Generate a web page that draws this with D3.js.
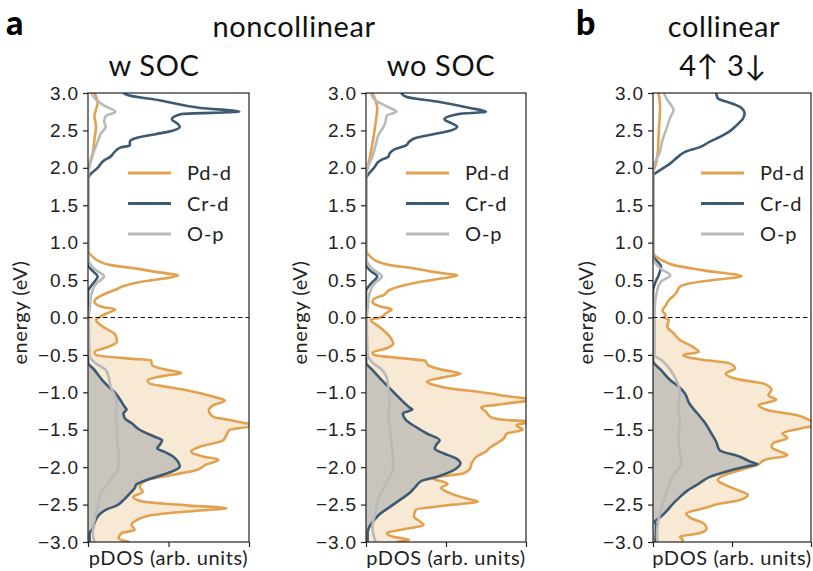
<!DOCTYPE html>
<html>
<head>
<meta charset="utf-8">
<script src="https://cdn.jsdelivr.net/npm/d3@7.9.0/dist/d3.min.js"></script>
<style>
  body { margin: 0; background: #fff; }
  svg { font-family: Lato, "Noto Sans", sans-serif; }
</style>
</head>
<body>
<svg id="chart" width="813" height="571"></svg>
<script>
// [energy (eV), pDOS in fraction of axis width]
const wsocPd = [[3.0,0.04],[2.87,0.06],[2.78,0.05],[2.69,0.04],[2.55,0.05],[2.38,0.04],[2.2,0.03],[2.06,0.01],[1.95,0],[0.9,0],[0.81,0.03],[0.75,0.07],[0.7,0.14],[0.66,0.28],[0.61,0.42],[0.56,0.56],[0.52,0.47],[0.48,0.34],[0.42,0.22],[0.37,0.17],[0.32,0.11],[0.25,0.05],[0.21,0.04],[0.14,0.09],[0.11,0.17],[0.05,0.11],[0,0.07],[-0.03,0.05],[-0.12,0.09],[-0.23,0.17],[-0.32,0.18],[-0.39,0.13],[-0.46,0.04],[-0.5,0.05],[-0.55,0.26],[-0.57,0.39],[-0.64,0.4],[-0.7,0.49],[-0.74,0.58],[-0.78,0.47],[-0.84,0.37],[-0.88,0.38],[-0.93,0.5],[-0.99,0.65],[-1.06,0.78],[-1.11,0.85],[-1.17,0.78],[-1.24,0.75],[-1.33,0.78],[-1.37,0.88],[-1.45,1.02],[-1.5,0.88],[-1.57,0.86],[-1.64,0.84],[-1.73,0.69],[-1.79,0.64],[-1.86,0.72],[-1.9,0.81],[-1.97,0.73],[-2.04,0.67],[-2.1,0.53],[-2.17,0.37],[-2.26,0.32],[-2.33,0.34],[-2.4,0.28],[-2.46,0.34],[-2.51,0.61],[-2.55,0.86],[-2.58,0.69],[-2.64,0.4],[-2.71,0.3],[-2.77,0.27],[-2.84,0.29],[-2.88,0.21],[-2.95,0.19],[-3.0,0.26]];
const wsocCr = [[3.0,0.22],[2.97,0.25],[2.9,0.45],[2.8,0.7],[2.75,0.94],[2.72,0.58],[2.65,0.52],[2.6,0.55],[2.55,0.57],[2.5,0.53],[2.45,0.42],[2.4,0.3],[2.35,0.26],[2.3,0.26],[2.27,0.2],[2.2,0.16],[2.15,0.14],[2.1,0.1],[2.0,0.06],[1.9,0.01],[1.85,0],[0.7,0],[0.62,0.03],[0.55,0.06],[0.45,0.03],[0.35,0],[-0.6,0],[-0.7,0.04],[-0.84,0.09],[-0.93,0.13],[-1.01,0.17],[-1.1,0.2],[-1.2,0.23],[-1.23,0.24],[-1.28,0.22],[-1.35,0.23],[-1.41,0.27],[-1.5,0.32],[-1.59,0.41],[-1.64,0.46],[-1.69,0.45],[-1.75,0.43],[-1.79,0.47],[-1.86,0.53],[-1.93,0.56],[-1.99,0.57],[-2.06,0.52],[-2.13,0.42],[-2.19,0.34],[-2.23,0.3],[-2.28,0.29],[-2.35,0.26],[-2.44,0.22],[-2.51,0.18],[-2.57,0.11],[-2.66,0.06],[-2.75,0.04],[-2.82,0.03],[-2.88,0.01],[-3.0,0.01]];
const wsocOp = [[3.0,0.02],[2.91,0.05],[2.82,0.11],[2.75,0.17],[2.69,0.11],[2.62,0.1],[2.55,0.11],[2.46,0.08],[2.35,0.06],[2.24,0.04],[2.1,0.02],[1.97,0.005],[1.8,0],[0.8,0],[0.65,0.04],[0.55,0.1],[0.45,0.05],[0.3,0.02],[0.1,0.01],[0,0.005],[-0.5,0.01],[-0.6,0.04],[-0.7,0.11],[-0.81,0.13],[-0.92,0.14],[-1.06,0.17],[-1.19,0.18],[-1.33,0.17],[-1.46,0.18],[-1.64,0.18],[-1.82,0.19],[-1.99,0.19],[-2.17,0.14],[-2.35,0.08],[-2.53,0.06],[-2.71,0.04],[-2.88,0.03],[-3.0,0.04]];

const wosocPd = [[3.0,0.04],[2.8,0.07],[2.6,0.06],[2.45,0.05],[2.2,0.03],[2.0,0.01],[1.9,0],[0.9,0],[0.81,0.03],[0.75,0.07],[0.7,0.15],[0.66,0.29],[0.61,0.42],[0.56,0.57],[0.52,0.47],[0.48,0.35],[0.42,0.22],[0.37,0.15],[0.3,0.11],[0.25,0.05],[0.21,0.04],[0.14,0.1],[0.11,0.16],[0.05,0.12],[0,0.09],[-0.03,0.03],[-0.12,0.08],[-0.26,0.15],[-0.35,0.17],[-0.41,0.13],[-0.47,0.04],[-0.5,0.05],[-0.55,0.25],[-0.58,0.37],[-0.64,0.39],[-0.7,0.48],[-0.75,0.59],[-0.8,0.48],[-0.86,0.38],[-0.9,0.42],[-0.95,0.53],[-0.99,0.69],[-1.05,0.88],[-1.1,1.03],[-1.15,0.88],[-1.2,0.72],[-1.26,0.75],[-1.33,0.78],[-1.37,0.88],[-1.39,1.03],[-1.44,0.94],[-1.5,0.98],[-1.55,0.88],[-1.62,0.86],[-1.68,0.82],[-1.73,0.78],[-1.79,0.75],[-1.86,0.69],[-1.95,0.66],[-2.02,0.65],[-2.08,0.61],[-2.15,0.42],[-2.22,0.51],[-2.28,0.47],[-2.35,0.53],[-2.42,0.63],[-2.46,0.7],[-2.51,0.51],[-2.57,0.31],[-2.66,0.3],[-2.73,0.34],[-2.77,0.36],[-2.84,0.21],[-2.88,0.13],[-2.93,0.17],[-2.97,0.27],[-3.0,0.19]];
const wosocCr = [[3.0,0.22],[2.95,0.25],[2.88,0.46],[2.8,0.65],[2.75,0.75],[2.72,0.58],[2.65,0.49],[2.6,0.53],[2.55,0.57],[2.5,0.53],[2.45,0.42],[2.4,0.31],[2.35,0.27],[2.3,0.25],[2.25,0.18],[2.2,0.15],[2.15,0.14],[2.1,0.09],[2.0,0.05],[1.9,0.01],[1.85,0],[0.7,0],[0.62,0.03],[0.55,0.07],[0.45,0.03],[0.35,0],[-0.6,0],[-0.7,0.04],[-0.84,0.1],[-0.97,0.16],[-1.1,0.22],[-1.2,0.27],[-1.23,0.29],[-1.28,0.23],[-1.37,0.25],[-1.46,0.31],[-1.55,0.38],[-1.64,0.46],[-1.7,0.44],[-1.75,0.43],[-1.82,0.49],[-1.88,0.56],[-1.95,0.59],[-1.99,0.58],[-2.06,0.53],[-2.13,0.44],[-2.18,0.35],[-2.26,0.31],[-2.35,0.27],[-2.44,0.21],[-2.53,0.15],[-2.62,0.09],[-2.71,0.05],[-2.8,0.02],[-2.88,0.01],[-3.0,0.01]];
const wosocOp = [[3.0,0.03],[2.9,0.06],[2.82,0.13],[2.75,0.19],[2.7,0.13],[2.6,0.12],[2.55,0.11],[2.45,0.08],[2.3,0.06],[2.15,0.04],[2.0,0.01],[1.85,0],[0.8,0],[0.65,0.04],[0.55,0.1],[0.45,0.05],[0.3,0.02],[0.1,0.01],[0,0.005],[-0.5,0.01],[-0.6,0.04],[-0.7,0.1],[-0.8,0.13],[-0.95,0.14],[-1.1,0.15],[-1.3,0.14],[-1.5,0.15],[-1.7,0.16],[-1.9,0.17],[-2.0,0.17],[-2.2,0.13],[-2.4,0.08],[-2.6,0.06],[-2.8,0.04],[-3.0,0.06]];

const collPd = [[3.0,0.035],[2.8,0.045],[2.6,0.04],[2.4,0.035],[2.2,0.03],[2.0,0.01],[1.95,0],[0.88,0],[0.76,0.06],[0.7,0.13],[0.63,0.32],[0.55,0.56],[0.5,0.38],[0.45,0.22],[0.41,0.17],[0.34,0.15],[0.29,0.13],[0.23,0.1],[0.16,0.08],[0.09,0.06],[0.03,0.08],[0,0.07],[-0.03,0.1],[-0.12,0.09],[-0.21,0.13],[-0.3,0.17],[-0.39,0.25],[-0.46,0.29],[-0.5,0.19],[-0.56,0.3],[-0.61,0.48],[-0.68,0.52],[-0.75,0.46],[-0.83,0.55],[-0.89,0.71],[-0.97,0.75],[-1.04,0.73],[-1.1,0.78],[-1.17,0.67],[-1.24,0.73],[-1.3,0.9],[-1.37,0.99],[-1.44,1.02],[-1.48,0.94],[-1.55,0.82],[-1.61,0.85],[-1.68,0.76],[-1.73,0.75],[-1.79,0.8],[-1.84,0.85],[-1.9,0.71],[-1.97,0.66],[-2.04,0.55],[-2.1,0.46],[-2.17,0.41],[-2.24,0.46],[-2.31,0.54],[-2.37,0.6],[-2.44,0.55],[-2.49,0.42],[-2.55,0.32],[-2.62,0.21],[-2.68,0.24],[-2.75,0.32],[-2.82,0.34],[-2.88,0.3],[-2.93,0.17],[-2.97,0.19],[-3.0,0.18]];
const collCr = [[3.0,0.4],[2.93,0.41],[2.86,0.5],[2.8,0.56],[2.73,0.58],[2.66,0.57],[2.57,0.53],[2.48,0.48],[2.42,0.43],[2.35,0.36],[2.28,0.3],[2.21,0.2],[2.15,0.16],[2.06,0.11],[1.99,0.06],[1.92,0.01],[1.9,0],[0.83,0],[0.68,0.05],[0.56,0.035],[0.47,0.015],[0.35,0],[-0.58,0],[-0.7,0.05],[-0.84,0.11],[-0.92,0.16],[-1.01,0.2],[-1.15,0.23],[-1.28,0.28],[-1.41,0.33],[-1.55,0.37],[-1.66,0.4],[-1.77,0.42],[-1.86,0.55],[-1.93,0.62],[-1.96,0.66],[-1.99,0.59],[-2.06,0.46],[-2.13,0.36],[-2.22,0.29],[-2.31,0.22],[-2.4,0.17],[-2.48,0.13],[-2.6,0.08],[-2.68,0.04],[-2.73,0.01],[-2.77,0.02],[-3.0,0.015]];
const collOp = [[3.0,0.07],[2.91,0.09],[2.82,0.12],[2.77,0.13],[2.68,0.11],[2.55,0.09],[2.37,0.06],[2.19,0.04],[2.06,0.01],[1.95,0],[0.8,0],[0.65,0.05],[0.56,0.11],[0.48,0.05],[0.35,0.025],[0.1,0.01],[0,0.01],[-0.5,0.01],[-0.58,0.06],[-0.7,0.11],[-0.85,0.15],[-1.0,0.17],[-1.2,0.16],[-1.4,0.17],[-1.6,0.16],[-1.8,0.17],[-1.95,0.18],[-2.1,0.13],[-2.3,0.09],[-2.5,0.06],[-2.7,0.035],[-2.9,0.025],[-3.0,0.03]];

const seriesNames = ['Pd-d', 'Cr-d', 'O-p'];
const seriesColors = ['#e2a14f', '#3e5a72', '#b9b9b9'];
const fillColors = ['rgba(226,161,79,0.24)', 'rgba(62,90,114,0.25)', null];
const energyTicks = d3.range(-3, 3.01, 0.5);
const dosTicks = [0, 0.5, 1];

const panels = [
  { data: [wsocPd, wsocCr, wsocOp], left: 88, right: 249, title: 'w SOC', titleX: 154, legendX: 128, ylabX: 20 },
  { data: [wosocPd, wosocCr, wosocOp], left: 366, right: 526, title: 'wo SOC', titleX: 441, legendX: 406, ylabX: 300 },
  { data: [collPd, collCr, collOp], left: 653, right: 811, title: '4↑ 3↓', titleX: 723, legendX: 701, ylabX: 586 }
];
const plotTop = 93, plotBottom = 542;

const svg = d3.select('#chart');
const fmt = d => d3.format('.1f')(d).replace('-', '−');

panels.forEach((p, pi) => {
  const x = d3.scaleLinear().domain([0, 1]).range([p.left, p.right]);
  const y = d3.scaleLinear().domain([-3, 3]).range([plotBottom, plotTop]);
  const g = svg.append('g');

  const clipId = 'clip' + pi;
  svg.append('clipPath').attr('id', clipId)
    .append('rect').attr('x', p.left).attr('y', plotTop)
    .attr('width', p.right - p.left).attr('height', plotBottom - plotTop);

  const plot = g.append('g').attr('clip-path', `url(#${clipId})`);

  const area = d3.area()
    .curve(d3.curveMonotoneY)
    .y(d => y(d[0])).x0(x(0)).x1(d => x(d[1]));
  const line = d3.line()
    .curve(d3.curveMonotoneY)
    .y(d => y(d[0])).x(d => x(d[1]));

  // occupied states get filled
  p.data.forEach((s, i) => {
    if (!fillColors[i]) return;
    plot.append('path')
      .datum(s.filter(d => d[0] <= 0))
      .attr('d', area)
      .attr('fill', fillColors[i]);
  });

  p.data.forEach((s, i) => {
    plot.append('path')
      .datum(s)
      .attr('d', line)
      .attr('fill', 'none')
      .attr('stroke', seriesColors[i])
      .attr('stroke-width', 2.6)
      .attr('stroke-linejoin', 'round');
  });

  // Fermi level
  g.append('line')
    .attr('x1', p.left).attr('x2', p.right)
    .attr('y1', y(0)).attr('y2', y(0))
    .attr('stroke', '#111').attr('stroke-width', 1.2)
    .attr('stroke-dasharray', '4.5,3');

  g.append('rect')
    .attr('x', p.left).attr('y', plotTop)
    .attr('width', p.right - p.left).attr('height', plotBottom - plotTop)
    .attr('fill', 'none').attr('stroke', '#222').attr('stroke-width', 1.2);

  const yAxis = g.append('g')
    .attr('transform', `translate(${p.left},0)`)
    .call(d3.axisLeft(y).tickValues(energyTicks).tickFormat(fmt).tickSize(5).tickPadding(4));
  yAxis.select('.domain').remove();
  yAxis.selectAll('line').attr('stroke', '#222').attr('stroke-width', 1.2);
  yAxis.selectAll('text').attr('font-size', 19).attr('letter-spacing', 0.9)
    .attr('fill', '#222').attr('font-family', null);

  const xAxis = g.append('g')
    .attr('transform', `translate(0,${plotBottom})`)
    .call(d3.axisBottom(x).tickValues(dosTicks).tickFormat('').tickSize(5));
  xAxis.select('.domain').remove();
  xAxis.selectAll('line').attr('stroke', '#222').attr('stroke-width', 1.2);

  g.append('text')
    .attr('x', (p.left + p.right) / 2).attr('y', 565)
    .attr('text-anchor', 'middle').attr('font-size', 20).attr('letter-spacing', 0.6)
    .attr('fill', '#222')
    .text('pDOS (arb. units)');

  g.append('text')
    .attr('transform', `translate(${p.ylabX},${(plotTop + plotBottom) / 2 - 5}) rotate(-90)`)
    .attr('text-anchor', 'middle').attr('dy', '0.35em')
    .attr('font-size', 20).attr('letter-spacing', 0.6).attr('fill', '#222')
    .text('energy (eV)');

  g.append('text')
    .attr('x', p.titleX).attr('y', 76)
    .attr('text-anchor', 'middle').attr('font-size', 29).attr('letter-spacing', 0.6)
    .attr('fill', '#111')
    .text(p.title);

  // legend
  seriesNames.forEach((name, i) => {
    const ly = 173 + i * 30.5;
    g.append('line')
      .attr('x1', p.legendX).attr('x2', p.legendX + 43)
      .attr('y1', ly).attr('y2', ly)
      .attr('stroke', seriesColors[i]).attr('stroke-width', 3);
    g.append('text')
      .attr('x', p.legendX + 59).attr('y', ly).attr('dy', '0.35em')
      .attr('font-size', 20).attr('letter-spacing', 0.9).attr('fill', '#222')
      .text(name);
  });
});

svg.append('text').attr('x', 294).attr('y', 37).attr('text-anchor', 'middle')
  .attr('font-size', 29).attr('letter-spacing', 0.6).attr('fill', '#111').text('noncollinear');
svg.append('text').attr('x', 724).attr('y', 37).attr('text-anchor', 'middle')
  .attr('font-size', 29).attr('letter-spacing', 0.6).attr('fill', '#111').text('collinear');
svg.append('text').attr('x', 6).attr('y', 35)
  .attr('font-size', 34).attr('font-weight', 900).attr('fill', '#000').text('a');
svg.append('text').attr('x', 576).attr('y', 35)
  .attr('font-size', 34).attr('font-weight', 900).attr('fill', '#000').text('b');
</script>
</body>
</html>
